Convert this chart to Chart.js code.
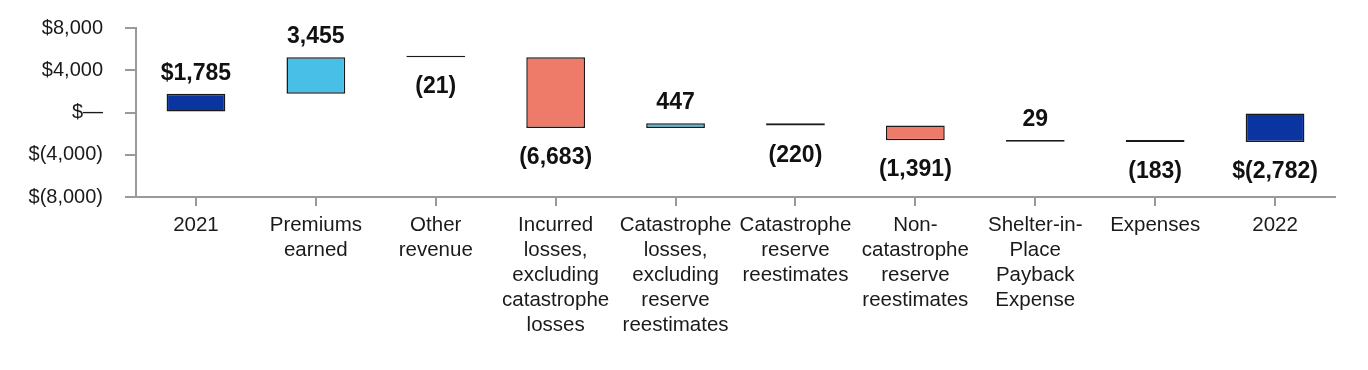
<!DOCTYPE html>
<html>
<head>
<meta charset="utf-8">
<script src="https://cdn.jsdelivr.net/npm/chart.js@4.4.1/dist/chart.umd.min.js"></script>
<style>
  html, body { margin: 0; padding: 0; background: #ffffff; }
  #wrap { width: 1368px; height: 370px; }
</style>
</head>
<body>
<div id="wrap"><canvas id="waterfallChart" width="1368" height="370"></canvas></div>
<script>
// Categories (multi-line tick labels)
const categories = [
    ['2021'],
    ['Premiums', 'earned'],
    ['Other', 'revenue'],
    ['Incurred', 'losses,', 'excluding', 'catastrophe', 'losses'],
    ['Catastrophe', 'losses,', 'excluding', 'reserve', 'reestimates'],
    ['Catastrophe', 'reserve', 'reestimates'],
    ['Non-', 'catastrophe', 'reserve', 'reestimates'],
    ['Shelter-in-', 'Place', 'Payback', 'Expense'],
    ['Expenses'],
    ['2022']
];

// Change for each step (first and last are totals)
const changes = [1785, 3455, -21, -6683, 447, -220, -1391, 29, -183, -2782];
const isTotal = [true, false, false, false, false, false, false, false, false, true];
const valueLabels = ['$1,785', '3,455', '(21)', '(6,683)', '447', '(220)', '(1,391)', '29', '(183)', '$(2,782)'];

// Y axis ticks
const yTicks = [8000, 4000, 0, -4000, -8000];

// Colours
const totalColor = '#0a35a0';
const upColor = '#47bfe6';
const downColor = '#ee7a69';

Chart.defaults.font.family = '"Liberation Sans", Arial, Helvetica, sans-serif';
Chart.defaults.color = '#1a1a1a';

// Build floating bars from the running total
const floating = [];
const colors = [];
let running = 0;
changes.forEach((c, i) => {
    if (isTotal[i]) {
        floating.push([0, c]);
        running = c;
        colors.push(totalColor);
    } else {
        floating.push([running, running + c]);
        running += c;
        colors.push(c >= 0 ? upColor : downColor);
    }
});

function fmtTick(v) {
    if (v === 0) return '$\u2014';
    const s = Math.abs(v).toLocaleString('en-US');
    return v < 0 ? '$(' + s + ')' : '$' + s;
}

// Labels above rising bars, below falling bars
const valueLabelPlugin = {
    id: 'valueLabels',
    afterDatasetsDraw(chart) {
        const ctx = chart.ctx;
        const meta = chart.getDatasetMeta(0);
        ctx.save();
        ctx.font = 'bold 23px "Liberation Sans", Arial, Helvetica, sans-serif';
        ctx.fillStyle = '#111111';
        ctx.textAlign = 'center';
        ctx.textBaseline = 'alphabetic';
        meta.data.forEach((bar, i) => {
            const top = Math.min(bar.y, bar.base);
            const bottom = Math.max(bar.y, bar.base);
            if (changes[i] >= 0) {
                ctx.fillText(valueLabels[i], bar.x, top - 14);
            } else {
                ctx.fillText(valueLabels[i], bar.x, bottom + 36);
            }
        });
        ctx.restore();
    }
};

new Chart(document.getElementById('waterfallChart'), {
    type: 'bar',
    data: {
        labels: categories,
        datasets: [{
            data: floating,
            backgroundColor: colors,
            borderColor: '#1a1a1a',
            borderWidth: 1.5,
            borderSkipped: false,
            barPercentage: 0.49,
            categoryPercentage: 1,
            minBarLength: 1.7
        }]
    },
    options: {
        responsive: false,
        animation: false,
        devicePixelRatio: 1,
        layout: {
            padding: { top: 28, right: 33, left: 0, bottom: 0 }
        },
        plugins: {
            legend: { display: false },
            tooltip: { enabled: false }
        },
        scales: {
            x: {
                offset: true,
                border: { color: '#9a9a9a', width: 2 },
                grid: {
                    offset: false,
                    drawOnChartArea: false,
                    drawTicks: true,
                    tickLength: 9,
                    color: '#9a9a9a',
                    lineWidth: 2
                },
                ticks: {
                    padding: 7,
                    maxRotation: 0,
                    autoSkip: false,
                    color: '#1a1a1a',
                    font: { size: 20.5, lineHeight: 1.22 }
                },
                afterFit(scale) { scale.height = 173; }
            },
            y: {
                min: -8000,
                max: 8000,
                border: { color: '#9a9a9a', width: 2 },
                grid: {
                    drawOnChartArea: false,
                    drawTicks: true,
                    tickLength: 11,
                    color: '#9a9a9a',
                    lineWidth: 2
                },
                afterBuildTicks(scale) {
                    scale.ticks = yTicks.map(v => ({ value: v }));
                },
                ticks: {
                    padding: 22,
                    color: '#1a1a1a',
                    font: { size: 20 },
                    callback: (v) => fmtTick(v)
                },
                afterFit(scale) {
                    scale.width = 136;
                    scale.paddingTop = 0;
                    scale.paddingBottom = 0;
                }
            }
        }
    },
    plugins: [valueLabelPlugin]
});
</script>
</body>
</html>
